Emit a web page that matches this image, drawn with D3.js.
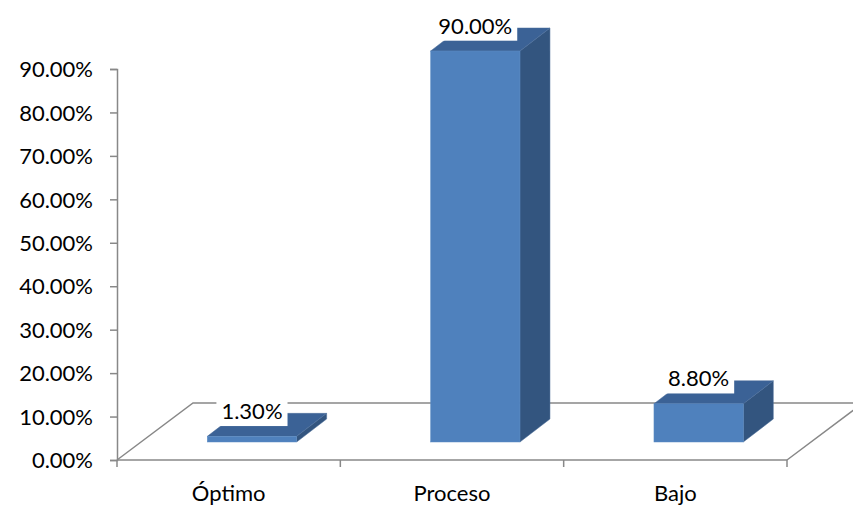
<!DOCTYPE html>
<html><head><meta charset="utf-8">
<script src="https://cdn.jsdelivr.net/npm/d3@7"></script>
<style>body{margin:0;background:#fff}svg{display:block}text{font-family:Lato,"Open Sans",sans-serif;fill:#000}</style>
</head><body><svg id="c" width="853" height="506"></svg>
<script>
const categories = ["Óptimo", "Proceso", "Bajo"];
const values = [1.3, 90.0, 8.8];
const valueLabels = ["1.30%", "90.00%", "8.80%"];
const yTicks = [0, 10, 20, 30, 40, 50, 60, 70, 80, 90];

const svg = d3.select("#c");
const x0 = 117, x1 = 787, yBase = 460, yTop = 69;
const x = d3.scaleBand().domain(categories).range([x0, x1]);
const y = d3.scaleLinear().domain([0, 90]).range([yBase, yTop]);
const axisColor = "#888888";
const fs = "22px";

// floor depth
const fdx = 76, fdy = -57;
// bar front offset and bar depth
const bdx0 = 23.3, bdy0 = -18;
const bdx = 30, bdy = -23;
const barW = x.bandwidth() * 0.4;

// floor parallelogram
svg.append("path")
  .attr("d", `M${x0},${yBase} L${x0+fdx},${yBase+fdy} L${x1+fdx},${yBase+fdy} L${x1},${yBase}`)
  .attr("fill", "none").attr("stroke", axisColor).attr("stroke-width", 1.5);

// y axis
const yAxis = d3.axisLeft(y).tickValues(yTicks).tickSize(7).tickPadding(17)
  .tickFormat(d => d.toFixed(2) + "%");
const gy = svg.append("g").attr("transform", `translate(${x0},0)`).call(yAxis);
gy.select(".domain").attr("stroke", axisColor).attr("stroke-width", 1.5);
gy.selectAll(".tick line").attr("stroke", axisColor).attr("stroke-width", 1.5);
gy.selectAll(".tick text").style("font-size", fs).attr("dy", "0.35em");

// x axis
svg.append("line").attr("x1", x0).attr("x2", x1).attr("y1", yBase).attr("y2", yBase)
  .attr("stroke", axisColor).attr("stroke-width", 1.5);
const xt = [x0].concat(categories.map(c => x(c) + x.bandwidth()));
svg.selectAll(".xt").data(xt).enter().append("line")
  .attr("x1", d => d).attr("x2", d => d).attr("y1", yBase).attr("y2", yBase + 7)
  .attr("stroke", axisColor).attr("stroke-width", 1.5);
svg.selectAll(".xl").data(categories).enter().append("text")
  .attr("x", d => x(d) + x.bandwidth() / 2).attr("y", 501)
  .attr("text-anchor", "middle").style("font-size", fs).text(d => d);

// bars
const bars = categories.map((c, i) => {
  const cx = x(c) + x.bandwidth() / 2 + bdx0;
  const l = cx - barW / 2, r = cx + barW / 2;
  const b = yBase + bdy0, t = y(values[i]) + bdy0;
  return {l, r, b, t, cx, i};
});
const g = svg.append("g");
bars.forEach(d => {
  g.append("path").attr("d", `M${d.r},${d.b} L${d.r+bdx},${d.b+bdy} L${d.r+bdx},${d.t+bdy} L${d.r},${d.t}Z`)
    .attr("fill", "#33557f").attr("stroke", "#4a6d99").attr("stroke-width", 0.5);
  g.append("path").attr("d", `M${d.l},${d.t} L${d.l+bdx},${d.t+bdy} L${d.r+bdx},${d.t+bdy} L${d.r},${d.t}Z`)
    .attr("fill", "#3b6296").attr("stroke", "#4a6d99").attr("stroke-width", 0.5);
  g.append("rect").attr("x", d.l).attr("y", d.t).attr("width", d.r - d.l).attr("height", d.b - d.t)
    .attr("fill", "#4f81bd").attr("stroke", "#5b8bc4").attr("stroke-width", 0.5);
});

// labels with white background
bars.forEach(d => {
  const ly = d.t - 25;
  const txt = svg.append("text").attr("x", d.cx).attr("y", ly).attr("dy", "0.35em")
    .attr("text-anchor", "middle").style("font-size", fs).text(valueLabels[d.i]);
  const bb = txt.node().getBBox();
  svg.insert("rect", function(){ return txt.node(); })
    .attr("x", bb.x - 5).attr("y", bb.y - 1).attr("width", bb.width + 10).attr("height", bb.height + 3)
    .attr("fill", "#fff");
});
</script></body></html>
